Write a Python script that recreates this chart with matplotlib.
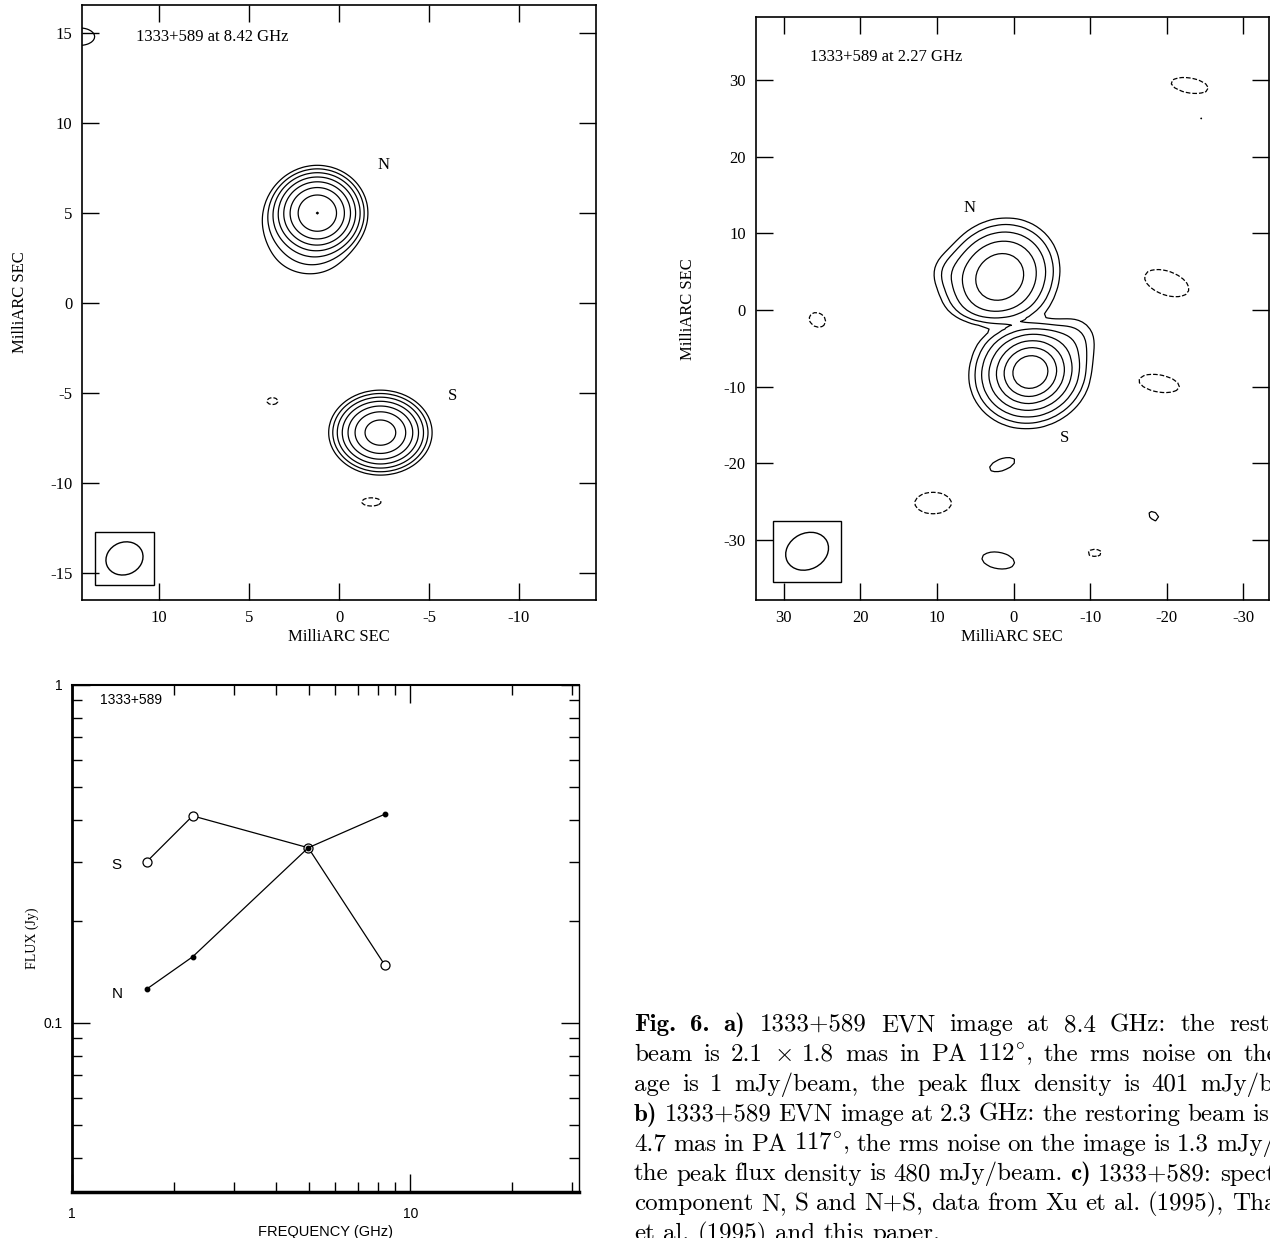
import numpy as np
import matplotlib
matplotlib.use('Agg')
import matplotlib.pyplot as plt
from matplotlib.patches import Ellipse, Rectangle

SERIF = ['Liberation Serif', 'DejaVu Serif']
SANS = ['Liberation Sans', 'DejaVu Sans']
plt.rcParams['mathtext.fontset'] = 'cm'

# --- a) 1333+589 at 8.42 GHz : gaussian components (mas, mJy/beam)
x8 = [1.2, 1.6, 3.2, -2.3, 14.4, 3.7, -1.8]
y8 = [5.0, 2.7, 4.3, -7.2, 14.8, -5.45, -11.05]
peak8 = [401.5, 6.0, 4.0, 300.0, 5.0, -4.2, -4.2]
sx8 = [0.9, 1.3, 0.9, 0.95, 0.85, 0.4, 0.7]
sy8 = [0.85, 0.9, 1.1, 0.78, 0.5, 0.25, 0.3]
ang8 = [0, 0, 0, 0, 0, 0, 0]
lev8 = 3.13 * np.array([-1, 1, 2, 4, 8, 16, 32, 64, 128])
beam8 = (2.1, 1.8, 112)

# --- b) 1333+589 at 2.27 GHz
x2 = [1.8, -2.2, -2.2, 8.5, -8.0, 1.0,
      25.6, -23.0, -20.0, -19.0, 10.5, -10.6,
      1.5, -18.3, 2.0, -24.5]
y2 = [4.3, -8.1, -8.1, 5.0, -3.5, -1.8,
      -1.3, 29.3, 3.5, -9.6, -25.2, -31.7,
      -20.2, -26.9, -32.7, 25.0]
peak2 = [105, 330, 150, 4, 6, -9,
         -5, -5, -5, -5, -5, -5,
         5, 5, 5.5, 4.2]
sx2 = [3.2, 1.75, 3.0, 1.6, 2.0, 4.0,
       1.6, 3.5, 4.3, 3.8, 3.4, 1.3,
       2.5, 1.1, 2.6, 0.35]
sy2 = [2.85, 1.6, 2.7, 1.6, 2.0, 1.3,
       1.3, 1.4, 2.2, 1.6, 2.0, 0.7,
       1.1, 0.7, 1.3, 0.35]
ang2 = [-40, -20, -20, 0, 0, 0,
        30, 10, 20, 10, 0, 0,
        -20, 40, 10, 0]
lev2 = 3.9 * np.array([-1, 1, 2, 4, 8, 16, 32, 64])
beam2 = (5.8, 4.7, 117)

# --- c) spectrum
freq = [1.66, 2.27, 4.99, 8.42]
flux_S = [0.30, 0.41, 0.33, 0.148]
flux_N = [0.126, 0.157, 0.33, 0.415]


def model(X, Y, xs, ys, peaks, sxs, sys_, angs):
    img = np.zeros_like(X)
    for x0, y0, p, sx, sy, a in zip(xs, ys, peaks, sxs, sys_, angs):
        t = np.radians(a)
        dx, dy = X - x0, Y - y0
        u = dx * np.cos(t) + dy * np.sin(t)
        v = -dx * np.sin(t) + dy * np.cos(t)
        img += p * np.exp(-0.5 * ((u / sx) ** 2 + (v / sy) ** 2))
    return img


def style_map(ax, xt, yt):
    ax.set_xticks(xt)
    ax.set_xticklabels([str(v) for v in xt])
    ax.set_yticks(yt)
    ax.set_yticklabels([str(v) for v in yt])
    ax.tick_params(direction='in', length=12, width=1, top=True, right=True,
                   labelsize=12, pad=7)
    for lab in ax.get_xticklabels() + ax.get_yticklabels():
        lab.set_family(SERIF)
    for s in ax.spines.values():
        s.set_linewidth(1.2)
    ax.set_xlabel('MilliARC SEC', family=SERIF, fontsize=12, labelpad=2)


def beam_box(ax, cx, cy, bw, bh, beam):
    maj, mnr, pa = beam
    ax.add_patch(Rectangle((cx - bw / 2, cy - bh / 2), bw, bh, fill=False,
                           lw=1.0, ec='k'))
    ang = np.degrees(np.arctan2(np.cos(np.radians(pa)), np.sin(np.radians(pa))))
    ax.add_patch(Ellipse((cx, cy), maj, mnr, angle=ang, fill=False, lw=1.0, ec='k'))


fig = plt.figure(figsize=(12.70, 12.38), dpi=100)
W, H = 1270.0, 1238.0


def px_axes(l, t, r, b, **kw):
    return fig.add_axes([l / W, 1 - b / H, (r - l) / W, (b - t) / H], **kw)


# ---------------- panel a
ax1 = px_axes(82, 5, 596, 600)
gx = np.arange(-16, 16.001, 0.1)
gy = np.arange(-18, 18.001, 0.1)
X, Y = np.meshgrid(gx, gy)
img8 = model(X, Y, x8, y8, peak8, sx8, sy8, ang8)
ax1.contour(X, Y, img8, levels=lev8, colors='k', linewidths=0.9)
ax1.set_xlim(14.28, -14.28)
ax1.set_ylim(-16.5, 16.56)
style_map(ax1, [10, 5, 0, -5, -10], [-15, -10, -5, 0, 5, 10, 15])
ax1.set_ylabel('MilliARC SEC', family=SERIF, fontsize=12, labelpad=16)
beam_box(ax1, 11.92, -14.19, 3.27, 2.97, beam8)
ax1.text(11.3, 14.8, '1333+589 at 8.42 GHz', family=SERIF, fontsize=12, va='center')
ax1.text(-2.5, 7.67, 'N', family=SERIF, fontsize=12, ha='center', va='center')
ax1.text(-6.3, -5.17, 'S', family=SERIF, fontsize=12, ha='center', va='center')

# ---------------- panel b
ax2 = px_axes(755.7, 17.3, 1269, 600)
gx2 = np.arange(-40, 40.001, 0.5)
X2, Y2 = np.meshgrid(gx2, gx2)
img2 = model(X2, Y2, x2, y2, peak2, sx2, sy2, ang2)
ax2.contour(X2, Y2, img2, levels=lev2, colors='k', linewidths=0.9)
ax2.set_xlim(33.66, -33.35)
ax2.set_ylim(-37.86, 38.2)
style_map(ax2, [30, 20, 10, 0, -10, -20, -30], [-30, -20, -10, 0, 10, 20, 30])
ax2.set_ylabel('MilliARC SEC', family=SERIF, fontsize=12, labelpad=20)
beam_box(ax2, 26.95, -31.5, 8.9, 8.0, beam2)
ax2.text(26.6, 33.0, '1333+589 at 2.27 GHz', family=SERIF, fontsize=12, va='center')
ax2.text(5.7, 13.3, 'N', family=SERIF, fontsize=12, ha='center', va='center')
ax2.text(-6.6, -16.7, 'S', family=SERIF, fontsize=12, ha='center', va='center')

# ---------------- panel c
ax3 = px_axes(72.3, 685, 579.3, 1192)
ax3.set_xscale('log')
ax3.set_yscale('log')
ax3.plot(freq, flux_S, '-', color='k', lw=0.9, marker='o', ms=6.5, mfc='white',
         mec='k', mew=0.9)
ax3.plot(freq, flux_N, '-', color='k', lw=0.9, marker='o', ms=3.2, mfc='k',
         mec='k')
ax3.set_xlim(1, 10 ** 1.5)
ax3.set_ylim(10 ** -1.5, 1)
ax3.set_xticks([1, 10])
ax3.set_xticklabels(['1', '10'])
ax3.set_yticks([0.1, 1])
ax3.set_yticklabels(['0.1', '1'])
ax3.tick_params(which='major', direction='in', length=13, width=1, top=True,
                right=True, labelsize=10)
ax3.tick_params(which='minor', direction='in', length=7, width=1, top=True,
                right=True, labelleft=False, labelbottom=False)
ax3.tick_params(axis='x', which='major', pad=11)
ax3.tick_params(axis='y', which='major', pad=7)
for lab in ax3.get_xticklabels() + ax3.get_yticklabels():
    lab.set_family(SANS)
ax3.spines['left'].set_linewidth(2.0)
ax3.spines['bottom'].set_linewidth(2.5)
ax3.spines['top'].set_linewidth(1.5)
ax3.spines['right'].set_linewidth(1.0)
ax3.set_xlabel('FREQUENCY (GHz)', family=SANS, fontsize=10.5, labelpad=3)
ax3.set_ylabel('FLUX (Jy)', family=SERIF, fontsize=10, labelpad=3)
ax3.text(0.055, 0.97, '1333+589', transform=ax3.transAxes, family=SANS,
         fontsize=10, va='center')
ax3.text(0.088, 0.645, 'S', transform=ax3.transAxes, family=SANS, fontsize=11,
         va='center', ha='center')
ax3.text(0.088, 0.39, 'N', transform=ax3.transAxes, family=SANS, fontsize=11,
         va='center', ha='center')

# ---------------- caption (justified TeX-like column, cut by the figure edge)
# words starting with '§' are set in bold
caption = [
    r"§Fig. §6. §a) 1333+589 EVN image at 8.4 GHz: the restoring",
    r"beam is 2.1 $\times$ 1.8 mas in PA 112$^{\circ}$, the rms noise on the im-",
    r"age is 1 mJy/beam, the peak flux density is 401 mJy/beam.",
    r"§b) 1333+589 EVN image at 2.3 GHz: the restoring beam is 5.1 $\times$",
    r"4.7 mas in PA 117$^{\circ}$, the rms noise on the image is 1.3 mJy/beam,",
    r"the peak flux density is 480 mJy/beam. §c) 1333+589: spectra of",
    r"component N, S and N+S, data from Xu et al. (1995), Thakkar",
    r"et al. (1995) and this paper.",
]
cap_x0, cap_x1 = 634.0, 1325.0
cap_y0, cap_dy = 1031.0, 29.9
renderer = fig.canvas.get_renderer()

# size the caption font so that line b) runs to the figure edge near "is"
probe = fig.text(0, 0, r"b) 1333+589 EVN image at 2.3 GHz: the restoring beam i",
                 family='cmr10', fontsize=16)
cap_fs = 16 * (1270 - cap_x0) / probe.get_window_extent(renderer).width
probe.remove()

for i, line in enumerate(caption):
    words = line.split(' ')
    yb = 1 - (cap_y0 + i * cap_dy) / H
    objs = []
    for w in words:
        fam = 'cmr10'
        if w.startswith('§'):
            w, fam = w[1:], 'cmb10'
        objs.append(fig.text(0, yb, w, family=fam, fontsize=cap_fs, va='baseline'))
    widths = [o.get_window_extent(renderer).width for o in objs]
    space = cap_fs * 100 / 72 * 0.333
    if i < len(caption) - 1:
        gap = (cap_x1 - cap_x0 - sum(widths)) / (len(words) - 1)
        gap = max(gap, 0.85 * space)
    else:
        gap = space
    x = cap_x0
    for o, w in zip(objs, widths):
        o.set_x(x / W)
        x += w + gap

fig.savefig('out.png', dpi=100)
